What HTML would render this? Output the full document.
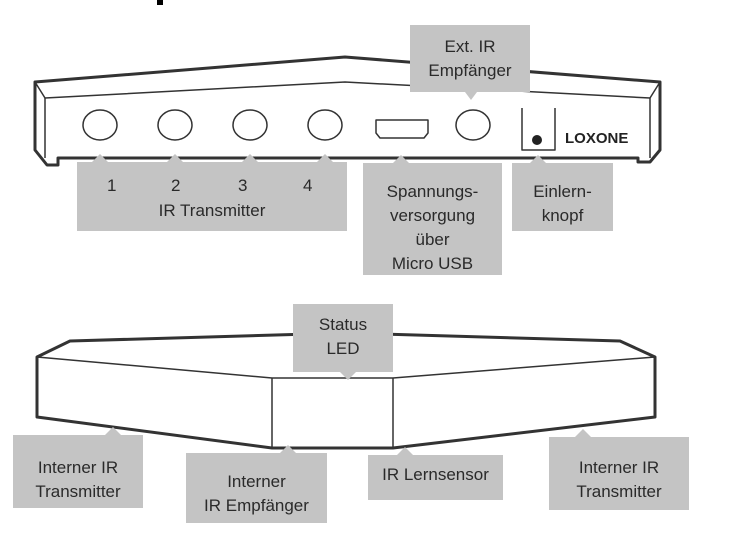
<!DOCTYPE html>
<html><head><meta charset="utf-8"><style>
body{margin:0;background:#fff;width:736px;height:540px;overflow:hidden;font-family:"Liberation Sans",sans-serif}
.l{position:absolute;background:#c4c4c4;color:#2a2a2a;font-size:17px;line-height:24px;text-align:center}
.t{position:absolute;font-size:17px;color:#2a2a2a}
</style></head><body>
<svg width="736" height="540" style="position:absolute;left:0;top:0">
<rect x="157" y="0" width="6" height="5" fill="#000"/>
<g fill="none" stroke="#333" stroke-linejoin="round">
<path d="M35 82 L345 57 L660 82 L660 150 L650 162 L638 162 L638 158 L58 158 L58 165 L47 165 L35 150 Z" stroke-width="3" fill="#fff"/>
<path d="M35 82 L45 98 L345 82 L650 98 L660 82" stroke-width="1.5"/>
<line x1="45" y1="98" x2="45" y2="158" stroke-width="1.5"/>
<line x1="650" y1="98" x2="650" y2="158" stroke-width="1.5"/>
<ellipse cx="100" cy="125" rx="17" ry="15" stroke-width="1.5"/>
<ellipse cx="175" cy="125" rx="17" ry="15" stroke-width="1.5"/>
<ellipse cx="250" cy="125" rx="17" ry="15" stroke-width="1.5"/>
<ellipse cx="325" cy="125" rx="17" ry="15" stroke-width="1.5"/>
<path d="M376 120 H428 V133 L424 138 H380 L376 133 Z" stroke-width="1.5"/>
<ellipse cx="473" cy="125" rx="17" ry="15" stroke-width="1.5"/>
<path d="M522 108 V150 H555 V108" stroke-width="1.5"/>
<path d="M37 357 L70 341 L345 333 L620 341 L655 357 L655 417 L393 448 L272 448 L37 417 Z" stroke-width="3" fill="#fff"/>
<path d="M37 357 L272 378 H393 L655 357" stroke-width="1.5"/>
<line x1="272" y1="378" x2="272" y2="448" stroke-width="1.5"/>
<line x1="393" y1="378" x2="393" y2="448" stroke-width="1.5"/>
</g>
<circle cx="537" cy="140" r="5" fill="#222"/>
<text x="565" y="143" font-family="Liberation Sans" font-weight="bold" font-size="15" fill="#222">LOXONE</text>
<g fill="#c4c4c4">
<rect x="410" y="25" width="120" height="67"/><polygon points="465,92 477,92 471,100"/>
<rect x="77" y="162" width="270" height="69"/>
<polygon points="92,162 108,162 100,154"/><polygon points="167,162 183,162 175,154"/><polygon points="242,162 258,162 250,154"/><polygon points="317,162 333,162 325,154"/>
<rect x="363" y="163" width="139" height="112"/><polygon points="393,163 409,163 401,155"/>
<rect x="512" y="163" width="101" height="68"/><polygon points="530,163 546,163 538,155"/>
<rect x="293" y="304" width="100" height="68"/><polygon points="340,372 356,372 348,380"/>
<rect x="13" y="435" width="130" height="73"/><polygon points="105,435 121,435 113,427"/>
<rect x="186" y="453" width="141" height="70"/><polygon points="280,453 296,453 288,445"/>
<rect x="368" y="455" width="135" height="45"/><polygon points="397,455 413,455 405,447"/>
<rect x="549" y="437" width="140" height="73"/><polygon points="575,437 591,437 583,429"/>
</g>
</svg>
<div class="l" style="left:410px;top:35px;width:120px;background:none">Ext. IR<br>Empfänger</div>
<div class="t" style="left:107px;top:176px">1</div>
<div class="t" style="left:171px;top:176px">2</div>
<div class="t" style="left:238px;top:176px">3</div>
<div class="t" style="left:303px;top:176px">4</div>
<div class="t" style="left:77px;width:270px;text-align:center;top:201px">IR Transmitter</div>
<div class="l" style="left:363px;top:180px;width:139px;background:none">Spannungs-<br>versorgung<br>über<br>Micro USB</div>
<div class="l" style="left:512px;top:180px;width:101px;background:none">Einlern-<br>knopf</div>
<div class="l" style="left:293px;top:313px;width:100px;background:none">Status<br>LED</div>
<div class="l" style="left:13px;top:456px;width:130px;background:none">Interner IR<br>Transmitter</div>
<div class="l" style="left:186px;top:470px;width:141px;background:none">Interner<br>IR Empfänger</div>
<div class="l" style="left:368px;top:463px;width:135px;background:none">IR Lernsensor</div>
<div class="l" style="left:549px;top:456px;width:140px;background:none">Interner IR<br>Transmitter</div>
</body></html>
